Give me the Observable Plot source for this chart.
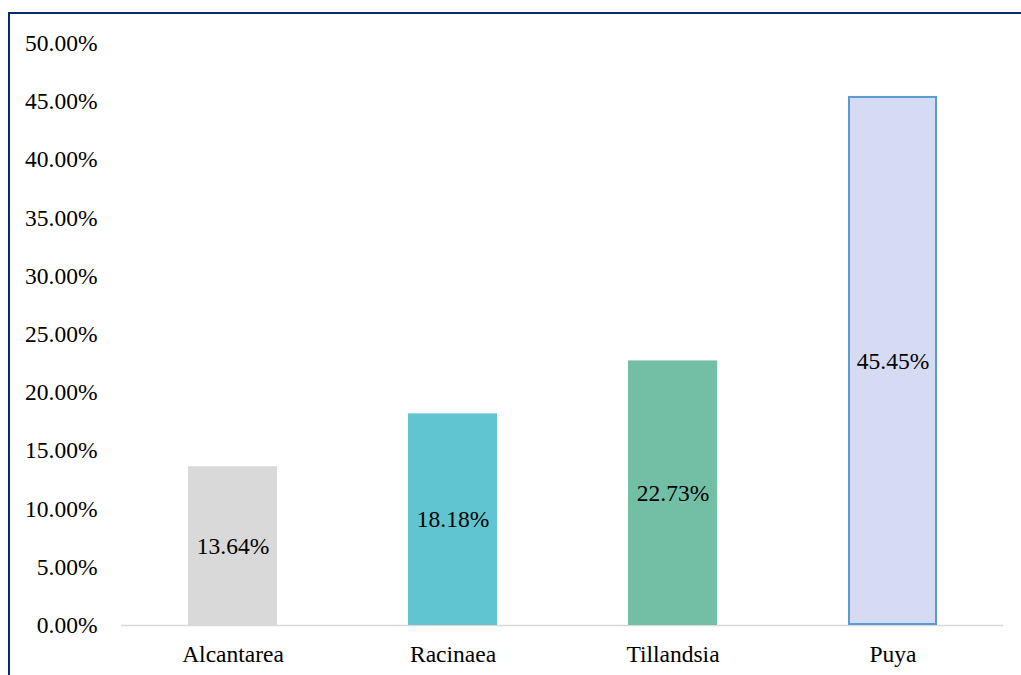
<!DOCTYPE html>
<html>
<head>
<meta charset="utf-8">
<script src="https://cdn.jsdelivr.net/npm/d3@7"></script>
<script src="https://cdn.jsdelivr.net/npm/@observablehq/plot@0.6"></script>
<style>
  html, body { margin: 0; padding: 0; background: #fff; overflow: hidden; width: 1021px; height: 675px; }
  #wrap { position: relative; width: 1021px; height: 675px; }
  #frame { position: absolute; left: 8px; top: 12px; width: 2000px; height: 2000px; border: 2px solid #0c2a6b; box-sizing: border-box; }
  #chart { position: absolute; left: 0; top: 0; }
  #chart svg, #chart svg text { font-family: "Liberation Serif", "Times New Roman", serif !important; font-size: 23.5px !important; font-variant-numeric: normal !important; }
</style>
</head>
<body>
<div id="wrap"><div id="frame"></div><div id="chart"></div></div>
<script>
const categories = ["Alcantarea", "Racinaea", "Tillandsia", "Puya"];
const values = [0.1364, 0.1818, 0.2273, 0.4545];
const yTicks = [0, 0.05, 0.10, 0.15, 0.20, 0.25, 0.30, 0.35, 0.40, 0.45, 0.50];
const barColors = ["#d9d9d9", "#60c5d1", "#73bfa6", "#d6dbf4"];

const data = categories.map((c, i) => ({category: c, value: values[i]}));
const fmt = d3.format(".2%");
const font = "Liberation Serif, Times New Roman, serif";

const chart = Plot.plot({
  width: 1021,
  height: 675,
  marginLeft: 121,
  marginRight: 18,
  marginTop: 43,
  marginBottom: 50,
  style: {background: "transparent", color: "#000"},
  x: {domain: categories, paddingInner: 0.596, paddingOuter: 0.298, label: null, tickSize: 0, tickPadding: 20},
  y: {domain: [0, 0.5], ticks: yTicks, tickFormat: fmt, label: null, tickSize: 0, tickPadding: 24},
  color: {domain: categories, range: barColors},
  marks: [
    Plot.ruleY([0], {stroke: "#d9d9d9", strokeWidth: 1.5}),
    Plot.barY(data, {x: "category", y: "value", fill: "category"}),
    Plot.barY(data.filter(d => d.category === "Puya"), {x: "category", y: "value", fill: "category", stroke: "#5b9bd5", strokeWidth: 2, inset: 1}),
    Plot.text(data, {x: "category", y: d => d.value / 2, text: d => fmt(d.value), fill: "#000", fontSize: 23.5, fontFamily: font})
  ]
});
document.getElementById("chart").appendChild(chart);
</script>
</body>
</html>
